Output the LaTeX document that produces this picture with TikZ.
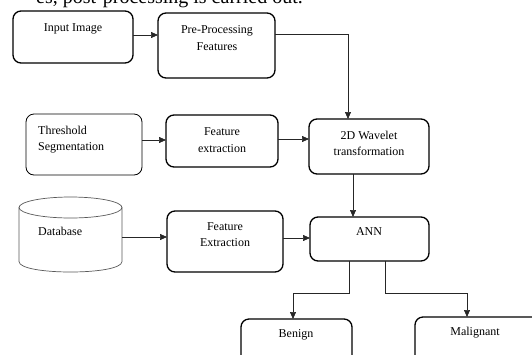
\documentclass[tikz,border=0pt]{standalone}
\usepackage{fontspec}
\setmainfont{Liberation Serif}
\usetikzlibrary{arrows.meta}

\tikzset{
	stage/.style={draw, rounded corners=8pt, line width=1.3pt, inner sep=0pt, outer sep=0pt},
	thinstage/.style={stage, line width=0.8pt},
	store/.style={draw=black!65, line width=0.7pt},
	txt/.style={font=\fontsize{12}{16.5}\selectfont, align=center, inner sep=0pt},
	flow/.style={-{Triangle[length=7pt,width=6pt]}, line width=0.7pt, draw=black!85}
}

\begin{document}
\begin{tikzpicture}[x=1pt,y=-1pt]
		\useasboundingbox (0,0) rectangle (532,354);
		\clip (0,0) rectangle (532,354);
		
		% line of text above the figure
		\node [anchor=base east, font=\fontsize{20}{24}\selectfont, inner sep=0pt] (caption) at (303,3) {es, post-processing is carried out.};
		
		% boxes
		\node [stage, minimum width=120pt, minimum height=52pt] (inp) at (73,37) {};
		\node [stage, minimum width=117pt, minimum height=65pt] (pre) at (216.5,45.5) {};
		\node [thinstage, minimum width=116pt, minimum height=61pt] (thr) at (84,144.5) {};
		\node [stage, minimum width=112pt, minimum height=52pt] (fex1) at (222,141) {};
		\node [stage, minimum width=120pt, minimum height=55pt] (wav) at (369,146.5) {};
		\node [inner sep=0pt, outer sep=0pt, minimum width=103pt, minimum height=75pt] (db) at (70.5,234.5) {};
		\node [stage, minimum width=116pt, minimum height=61pt] (fex2) at (225,241.5) {};
		\node [stage, minimum width=119pt, minimum height=44pt] (ann) at (369.5,239) {};
		\node [stage, minimum width=111pt, minimum height=51pt] (ben) at (296.5,344.5) {};
		\node [stage, minimum width=130pt, minimum height=53pt] (mal) at (480,343.5) {};
		
		% database drum
		\draw [store] ([yshift=-10.5pt]db.north) ellipse [x radius=51.5pt, y radius=10.5pt];
		\draw [store] ([yshift=-10.5pt]db.north west) -- ([yshift=10.5pt]db.south west)
			.. controls ([yshift=-3.5pt]db.south west) and ([yshift=-3.5pt]db.south east) .. ([yshift=10.5pt]db.south east)
			-- ([yshift=-10.5pt]db.north east);
		
		% texts
		\node [txt] (inp-t) at (73,29) {Input Image};
		\node [txt] (pre-t) at (217,38) {Pre-Processing\\Features};
		\node [txt, anchor=west, align=left] (thr-t) at (38,139.5) {Threshold\\Segmentation};
		\node [txt] (fex1-t) at (222,140) {Feature\\extraction};
		\node [txt] (wav-t) at (369,143.5) {2D Wavelet\\transformation};
		\node [txt, anchor=west] (db-t) at (38,231) {Database};
		\node [txt] (fex2-t) at (225,234.5) {Feature\\Extraction};
		\node [txt] (ann-t) at (369,232) {ANN};
		\node [txt] (ben-t) at (296,335) {Benign};
		\node [txt] (mal-t) at (475,333) {Malignant};
		
		% connectors
		\draw [flow] ([yshift=2pt]inp.east) -- ([yshift=2pt]inp.east -| pre.west);
		\draw [flow] ([yshift=11.5pt]pre.east) -| ([xshift=-21pt]wav.north);
		\draw [flow] ([yshift=4.5pt]thr.east) -- ([yshift=4.5pt]thr.east -| fex1.west);
		\draw [flow] ([yshift=2pt]fex1.east) -- ([yshift=2pt]fex1.east -| wav.west);
		\draw [flow] ([xshift=-16pt]wav.south) -- ([xshift=-16pt]wav.south |- ann.north);
		\draw [flow] ([yshift=-2.5pt]db.east) -- ([yshift=-2.5pt]db.east -| fex2.west);
		\draw [flow] ([yshift=3.5pt]fex2.east) -- ([yshift=3.5pt]fex2.east -| ann.west);
		\draw [flow] ([xshift=-20.5pt]ann.south) -- ++(0,32) -| ([xshift=-3.5pt]ben.north);
		\draw [flow] ([xshift=15.5pt]ann.south) -- ++(0,32) -| ([xshift=-13pt]mal.north);
	\end{tikzpicture}
\end{document}
